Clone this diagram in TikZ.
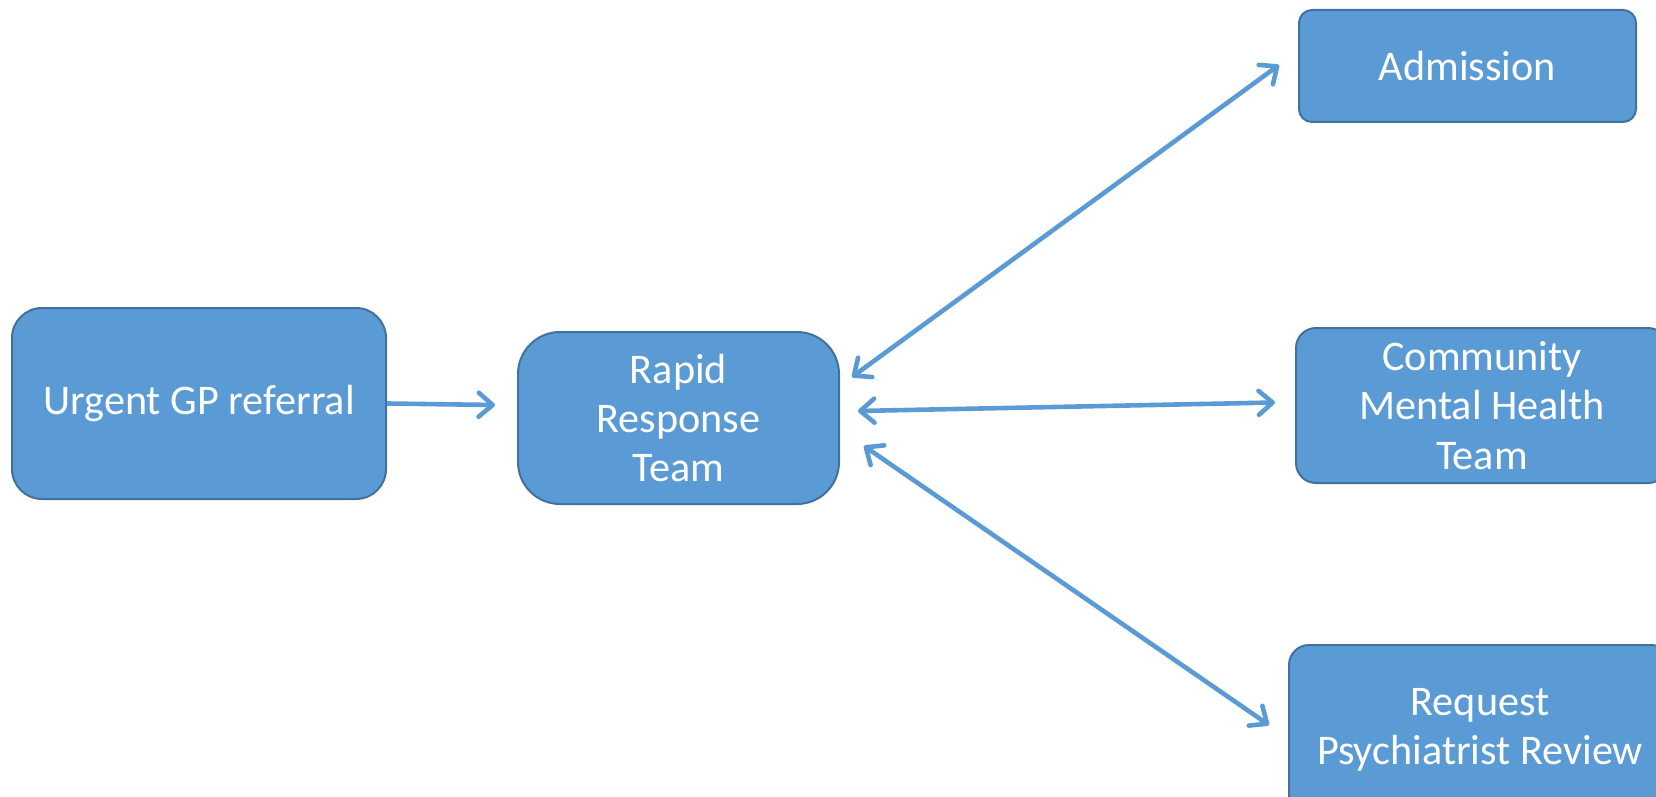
\documentclass[tikz,border=0pt]{standalone}
\usepackage{fontspec}
\setmainfont{Carlito}
\usepackage{tikz}
\usetikzlibrary{arrows.meta}
\definecolor{boxfill}{HTML}{5B9BD5}
\definecolor{boxline}{HTML}{41719C}

\begin{document}
\begin{tikzpicture}[x=0.5pt,y=-0.5pt]
\tikzstyle{every node}+=[inner sep=0pt]
\tikzstyle{box}=[draw=boxline, fill=boxfill, line width=1pt, text=white, align=center, font=\fontsize{21.1}{24.6}\selectfont]
\tikzstyle{link}=[draw=boxfill, line width=2.3pt, >={Straight Barb[length=7pt,width=12pt,round]}]
\clip (0,0) rectangle (1656,797);
% boxes
\node [box, rounded corners=15pt, minimum width=187pt, minimum height=95.5pt] (urg) at (199,403.5) {Urgent GP referral};
\node [box, rounded corners=21pt, minimum width=160.5pt, minimum height=86pt] (rrt) at (678.5,418) {Rapid\\Response\\Team};
\node [box, rounded corners=6.5pt, minimum width=168.5pt, minimum height=56pt] (adm) at (1467.5,66) {Admission};
\node [box, rounded corners=10pt, minimum width=186pt, minimum height=77.5pt] (cmht) at (1482,405.5) {Community\\Mental Health\\Team};
\node [box, rounded corners=10pt, minimum width=191pt, minimum height=85pt] (psy) at (1480,730) {Request\\Psychiatrist Review};
% connectors
\draw [link, ->] (urg.east) -- ([shift={(-22,-13)}]rrt.west);
\draw [link, <->] ([shift={(12,-41)}]rrt.east) -- ([shift={(-19,-1)}]adm.west);
\draw [link, <->] ([shift={(18,-7)}]rrt.east) -- ([shift={(-20,-3)}]cmht.west);
\draw [link, <->] ([shift={(24,28)}]rrt.east) -- ([shift={(-19,-5)}]psy.west);
\end{tikzpicture}
\end{document}
